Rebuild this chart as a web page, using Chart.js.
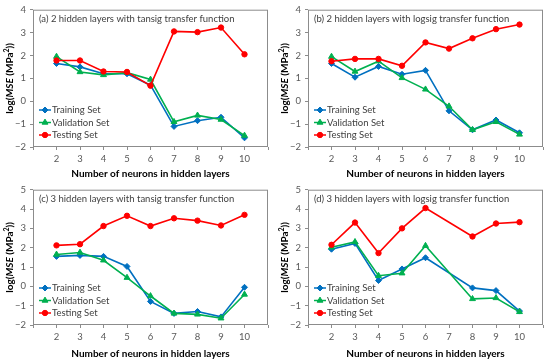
<!DOCTYPE html>
<html>
<head>
<meta charset="utf-8">
<script src="https://cdn.jsdelivr.net/npm/chart.js@4.4.1/dist/chart.umd.min.js"></script>
<style>
  body { margin: 0; background: #fff; }
  #wrap { position: relative; width: 550px; height: 360px; }
  .panel { position: absolute; width: 275px; height: 180px; }
</style>
</head>
<body>
<div id="wrap">
  <div class="panel" style="left:0;top:0"><canvas id="chartA" width="275" height="180"></canvas></div>
  <div class="panel" style="left:275px;top:0"><canvas id="chartB" width="275" height="180"></canvas></div>
  <div class="panel" style="left:0;top:180px"><canvas id="chartC" width="275" height="180"></canvas></div>
  <div class="panel" style="left:275px;top:180px"><canvas id="chartD" width="275" height="180"></canvas></div>
</div>
<script>
// Datos
const neurons = [2, 3, 4, 5, 6, 7, 8, 9, 10];
const seriesNames = ['Training Set', 'Validation Set', 'Testing Set'];

// (a) 2 capas, tansig
const trainA = [1.65, 1.5, 1.2, 1.2, 0.7, -1.1, -0.85, -0.7, -1.6];
const validA = [1.95, 1.28, 1.15, 1.25, 0.95, -0.9, -0.62, -0.8, -1.5];
const testA  = [1.78, 1.78, 1.3, 1.28, 0.68, 3.05, 3.02, 3.22, 2.05];

// (b) 2 capas, logsig
const trainB = [1.65, 1.05, 1.52, 1.18, 1.35, -0.42, -1.25, -0.82, -1.38];
const validB = [1.95, 1.3, 1.75, 1.02, 0.52, -0.22, -1.25, -0.9, -1.45];
const testB  = [1.75, 1.85, 1.85, 1.55, 2.57, 2.3, 2.75, 3.15, 3.35];

// (c) 3 capas, tansig
const trainC = [1.55, 1.6, 1.55, 1.03, -0.78, -1.4, -1.3, -1.58, -0.05];
const validC = [1.65, 1.75, 1.35, 0.45, -0.5, -1.4, -1.45, -1.65, -0.42];
const testC  = [2.12, 2.18, 3.12, 3.65, 3.12, 3.52, 3.4, 3.15, 3.7];

// (d) 3 capas, logsig (sin dato en 7)
const trainD = [1.92, 2.22, 0.3, 0.9, 1.48, null, -0.08, -0.22, -1.28];
const validD = [2.02, 2.3, 0.55, 0.68, 2.1, null, -0.65, -0.6, -1.32];
const testD  = [2.15, 3.3, 1.72, 3.0, 4.05, null, 2.58, 3.25, 3.32];

const titles = [
  '(a) 2 hidden layers with tansig transfer function',
  '(b) 2 hidden layers with logsig transfer function',
  '(c) 3 hidden layers with tansig transfer function',
  '(d) 3 hidden layers with logsig transfer function'
];
const yMax = [4, 4, 5, 5];

// Paleta
const palette = { blue: '#0070c0', green: '#00b050', red: '#ff0000' };
const colors = [palette.blue, palette.green, palette.red];
const shapes = ['rectRot', 'triangle', 'circle'];
const radii = [3, 3.4, 2.7];
const FONT = 'Lato, "Open Sans", sans-serif';

function toPoints(vals) {
  return neurons.map((n, i) => ({ x: n, y: vals[i] }));
}

// Dibuja borde, título del panel, leyenda y título del eje Y
const decor = {
  id: 'decor',
  afterDatasetsDraw(chart, args, opts) {
    const { ctx, chartArea: a } = chart;
    ctx.save();
    ctx.strokeStyle = '#8c8c8c';
    ctx.lineWidth = 1;
    ctx.strokeRect(a.left + 0.5, a.top + 0.5, a.right - a.left - 1, a.bottom - a.top - 1);

    ctx.fillStyle = '#404040';
    ctx.font = '9.5px ' + FONT;
    ctx.textBaseline = 'middle';
    ctx.fillText(opts.title, a.left + 6, a.top + 9);

    // Leyenda
    seriesNames.forEach((name, i) => {
      const y = a.bottom - 37 + i * 12.5;
      const x0 = a.left + 6;
      ctx.strokeStyle = colors[i];
      ctx.fillStyle = colors[i];
      ctx.lineWidth = 1.5;
      ctx.beginPath();
      ctx.moveTo(x0, y);
      ctx.lineTo(x0 + 12, y);
      ctx.stroke();
      ctx.lineWidth = 1;
      Chart.helpers.drawPoint(ctx, { pointStyle: shapes[i], radius: radii[i], borderWidth: 1, rotation: 0 }, x0 + 6, y);
      ctx.fillStyle = '#404040';
      ctx.font = '9.5px ' + FONT;
      ctx.fillText(name, x0 + 13, y);
    });

    // Título eje Y: log(MSE (MPa²))
    const cy = (a.top + a.bottom) / 2;
    ctx.translate(10, cy);
    ctx.rotate(-Math.PI / 2);
    ctx.fillStyle = '#000';
    const parts = [
      ['bold 10px ' + FONT, 'log('],
      ['bold italic 10px ' + FONT, 'MSE'],
      ['bold 10px ' + FONT, ' (MPa'],
      ['bold 7px ' + FONT, '2'],
      ['bold 10px ' + FONT, '))']
    ];
    let total = 0;
    parts.forEach(p => { ctx.font = p[0]; total += ctx.measureText(p[1]).width; });
    let x = -total / 2;
    parts.forEach(p => {
      ctx.font = p[0];
      ctx.fillText(p[1], x, p[1] === '2' ? -3 : 0);
      x += ctx.measureText(p[1]).width;
    });
    ctx.restore();
  }
};

function makeChart(id, idx, train, valid, test) {
  const top = idx < 2 ? 9 : 7;
  const data = {
    datasets: [train, valid, test].map((vals, i) => ({
      label: seriesNames[i],
      data: toPoints(vals),
      borderColor: colors[i],
      backgroundColor: colors[i],
      borderWidth: 1.6,
      pointStyle: shapes[i],
      pointRadius: radii[i],
      pointBorderWidth: 1,
      spanGaps: true,
      order: 2 - i
    }))
  };
  return new Chart(document.getElementById(id), {
    type: 'line',
    data,
    options: {
      responsive: false,
      animation: false,
      layout: { padding: { top: top, right: 7, left: 0, bottom: 0 } },
      plugins: {
        legend: { display: false },
        tooltip: { enabled: false },
        decor: { title: titles[idx] }
      },
      scales: {
        x: {
          type: 'linear',
          min: 1, max: 11,
          afterFit: s => { s.height = 180 - top - 138; },
          grid: { drawOnChartArea: false, tickLength: 3, color: '#8c8c8c' },
          border: { display: false },
          ticks: {
            stepSize: 1,
            color: '#595959',
            font: { size: 9.5, family: FONT },
            padding: 3,
            callback: v => (v === 1 || v === 11) ? '' : v
          },
          title: {
            display: true,
            text: 'Number of neurons in hidden layers',
            color: '#000',
            font: { size: 10, weight: 'bold', family: FONT },
            padding: { top: 1, bottom: 0 }
          }
        },
        y: {
          min: -2, max: yMax[idx],
          afterFit: s => { s.width = 33; },
          grid: { drawOnChartArea: false, tickLength: 3, color: '#8c8c8c' },
          border: { display: false },
          ticks: {
            stepSize: 1,
            color: '#595959',
            font: { size: 9.5, family: FONT },
            padding: 4,
            callback: v => v < 0 ? '\u2212' + Math.abs(v) : v
          }
        }
      }
    },
    plugins: [decor]
  });
}

makeChart('chartA', 0, trainA, validA, testA);
makeChart('chartB', 1, trainB, validB, testB);
makeChart('chartC', 2, trainC, validC, testC);
makeChart('chartD', 3, trainD, validD, testD);
</script>
</body>
</html>
